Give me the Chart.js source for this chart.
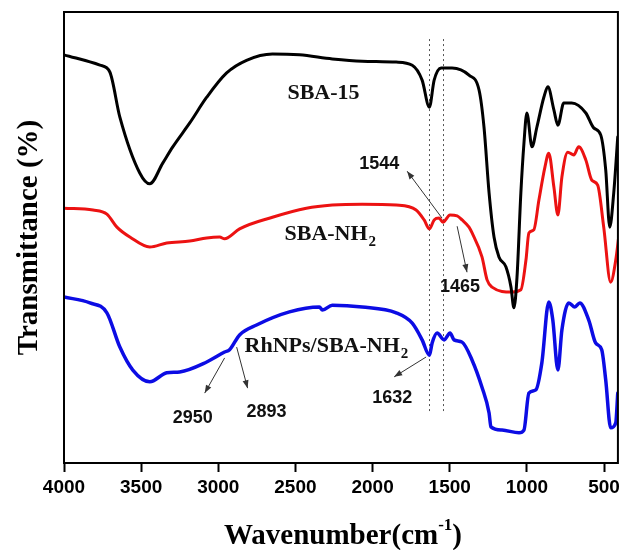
<!DOCTYPE html>
<html>
<head>
<meta charset="utf-8">
<script src="https://cdn.jsdelivr.net/npm/chart.js@4"></script>
<style>
  html, body { margin: 0; padding: 0; background: #fff; }
  #wrap { width: 624px; height: 550px; position: relative; }
</style>
</head>
<body>
<div id="wrap"><canvas id="c"></canvas></div>
<script>
// FTIR spectra (wavenumber in cm-1, transmittance in arbitrary %)

const xTicks = [4000, 3500, 3000, 2500, 2000, 1500, 1000, 500];

const sbaWn = [4000, 3767, 3703, 3638, 3509, 3444, 3360, 3295, 3185, 3075, 2946, 2817, 2649, 2474, 2261, 2067, 1847, 1743, 1679, 1632, 1601, 1556, 1485, 1375, 1310, 1278, 1245, 1213, 1181, 1136, 1103, 1084, 1064, 1039, 1019, 1000, 967, 935, 890, 864, 825, 799, 761, 709, 618, 567, 521, 489, 463, 437, 411];
const sbaT = [90.5, 88.2, 86.7, 76.7, 64.3, 61.9, 66.5, 70.1, 75.4, 81.1, 86.5, 89.3, 90.7, 90.5, 89.6, 89.1, 88.9, 88.2, 84.9, 78.9, 84.9, 87.6, 87.6, 86.0, 82.7, 74.5, 59.9, 50.1, 45.7, 43.5, 39.0, 34.4, 41.2, 59.9, 70.9, 77.6, 70.1, 74.5, 81.1, 83.4, 78.3, 74.9, 79.8, 79.8, 77.6, 74.3, 72.7, 65.0, 52.3, 59.9, 72.3];

const nh2Wn = [4000, 3812, 3722, 3657, 3573, 3444, 3334, 3185, 3075, 2991, 2959, 2940, 2862, 2649, 2429, 2261, 2067, 1847, 1718, 1666, 1632, 1601, 1569, 1544, 1498, 1452, 1420, 1375, 1355, 1291, 1258, 1226, 1097, 1039, 1006, 987, 955, 922, 883, 858, 825, 799, 773, 735, 696, 664, 618, 579, 541, 502, 457, 424, 405];
const nh2T = [56.5, 56.1, 55.2, 52.3, 50.1, 47.9, 48.8, 49.2, 49.9, 50.1, 49.7, 49.9, 51.9, 54.5, 56.5, 57.2, 57.4, 57.2, 56.1, 53.9, 51.9, 53.9, 54.3, 53.4, 55.0, 54.8, 53.9, 52.3, 51.0, 45.7, 40.6, 39.0, 37.9, 38.4, 45.0, 51.0, 51.7, 58.3, 65.6, 68.7, 61.2, 55.0, 63.4, 68.9, 68.3, 70.1, 67.2, 62.7, 61.6, 52.3, 40.1, 45.0, 50.1];

const rhWn = [4000, 3832, 3722, 3638, 3554, 3444, 3334, 3250, 3075, 2959, 2927, 2862, 2752, 2539, 2345, 2325, 2261, 2067, 1847, 1743, 1679, 1632, 1614, 1582, 1536, 1498, 1472, 1420, 1355, 1291, 1245, 1233, 1161, 1051, 1019, 987, 942, 903, 858, 832, 799, 773, 728, 689, 657, 599, 554, 515, 489, 457, 424, 411];
const rhT = [36.8, 35.5, 33.3, 25.7, 20.6, 18.0, 20.0, 20.2, 22.4, 24.6, 25.1, 28.4, 30.6, 33.5, 34.6, 33.9, 35.0, 34.6, 33.3, 31.0, 27.3, 23.9, 26.6, 28.8, 27.3, 28.8, 27.3, 26.8, 22.8, 16.8, 11.1, 8.0, 7.3, 6.7, 7.3, 15.5, 16.2, 22.2, 35.7, 31.7, 20.6, 29.5, 35.5, 34.6, 35.5, 31.7, 26.6, 25.1, 18.4, 7.8, 8.9, 15.5];

// curve names (main text + subscript) and where they sit [wavenumber, T]
const seriesNames = ['SBA-15', 'SBA-NH', 'RhNPs/SBA-NH'];
const seriesSubs = ['', '2', '2'];
const seriesNameAt = [[2552, 80.7], [2571, 49.4], [2830, 24.6]];

// marked bands: dotted guide lines
const guideWn = [1632, 1544];
const guideFrom = 11;
const guideTo = 94;

// band labels and arrows [from wn, from T, to wn, to T]
const bandLabels = ['1544', '1465', '1632', '2950', '2893'];
const bandLabelAt = [[1957, 66.3], [1433, 39.0], [1873, 14.4], [3166, 10.0], [2687, 11.3]];
const bandArrows = [
  [1550, 54.3, 1776, 64.7],
  [1452, 52.5, 1388, 42.3],
  [1653, 23.5, 1860, 19.1],
  [2959, 23.3, 3088, 15.5],
  [2881, 25.7, 2810, 16.6],
];

const pts = (xs, ys) => xs.map((v, i) => ({ x: v, y: ys[i] }));

const SERIF = '"Liberation Serif", "Times New Roman", serif';
const SANS = '"Liberation Sans", Arial, sans-serif';

function arrow(ctx, x1, y1, x2, y2) {
  const a = Math.atan2(y2 - y1, x2 - x1);
  ctx.beginPath();
  ctx.moveTo(x1, y1);
  ctx.lineTo(x2, y2);
  ctx.stroke();
  ctx.beginPath();
  ctx.moveTo(x2, y2);
  ctx.lineTo(x2 - 8 * Math.cos(a) + 3 * Math.sin(a), y2 - 8 * Math.sin(a) - 3 * Math.cos(a));
  ctx.lineTo(x2 - 8 * Math.cos(a) - 3 * Math.sin(a), y2 - 8 * Math.sin(a) + 3 * Math.cos(a));
  ctx.closePath();
  ctx.fill();
}

const annotate = {
  id: 'annotate',
  beforeDatasetsDraw(chart) {
    const { ctx, scales: { x, y } } = chart;
    ctx.save();
    ctx.strokeStyle = '#555';
    ctx.lineWidth = 1;
    ctx.setLineDash([2, 3]);
    guideWn.forEach((w) => {
      const px = Math.round(x.getPixelForValue(w)) + 0.5;
      ctx.beginPath();
      ctx.moveTo(px, y.getPixelForValue(guideTo));
      ctx.lineTo(px, y.getPixelForValue(guideFrom));
      ctx.stroke();
    });
    ctx.restore();
  },
  afterDatasetsDraw(chart) {
    const { ctx, chartArea: ca, scales: { x, y } } = chart;
    ctx.save();

    // arrows
    ctx.strokeStyle = '#333';
    ctx.fillStyle = '#333';
    ctx.lineWidth = 1;
    bandArrows.forEach((a) => {
      arrow(ctx, x.getPixelForValue(a[0]), y.getPixelForValue(a[1]),
        x.getPixelForValue(a[2]), y.getPixelForValue(a[3]));
    });

    // band numbers
    ctx.fillStyle = '#111';
    ctx.font = 'bold 18px ' + SANS;
    ctx.textAlign = 'center';
    ctx.textBaseline = 'middle';
    bandLabels.forEach((t, i) => {
      ctx.fillText(t, x.getPixelForValue(bandLabelAt[i][0]), y.getPixelForValue(bandLabelAt[i][1]));
    });

    // curve names
    ctx.textAlign = 'left';
    ctx.textBaseline = 'alphabetic';
    seriesNames.forEach((t, i) => {
      const px = x.getPixelForValue(seriesNameAt[i][0]);
      const py = y.getPixelForValue(seriesNameAt[i][1]);
      ctx.font = 'bold 22px ' + SERIF;
      ctx.fillText(t, px, py);
      if (seriesSubs[i]) {
        const w = ctx.measureText(t).width;
        ctx.font = 'bold 15px ' + SERIF;
        ctx.fillText(seriesSubs[i], px + w + 1, py + 6);
      }
    });

    // frame
    ctx.strokeStyle = '#000';
    ctx.lineWidth = 2;
    ctx.strokeRect(ca.left, ca.top, ca.right - ca.left, ca.bottom - ca.top);

    // x title with superscript
    const main = 'Wavenumber(cm';
    const sup = '-1';
    const tail = ')';
    ctx.fillStyle = '#000';
    ctx.font = 'bold 29px ' + SERIF;
    const w1 = ctx.measureText(main).width;
    const w3 = ctx.measureText(tail).width;
    ctx.font = 'bold 17px ' + SERIF;
    const w2 = ctx.measureText(sup).width;
    const total = w1 + w2 + w3;
    const cx = (ca.left + ca.right) / 2 + 2;
    let sx = cx - total / 2;
    const base = 544;
    ctx.font = 'bold 29px ' + SERIF;
    ctx.fillText(main, sx, base);
    ctx.font = 'bold 17px ' + SERIF;
    ctx.fillText(sup, sx + w1, base - 14);
    ctx.font = 'bold 29px ' + SERIF;
    ctx.fillText(tail, sx + w1 + w2, base);
    ctx.restore();
  },
};

new Chart(document.getElementById('c'), {
  type: 'scatter',
  data: {
    datasets: [
      { label: 'SBA-15', data: pts(sbaWn, sbaT), borderColor: '#000000', borderWidth: 3 },
      { label: 'SBA-NH2', data: pts(nh2Wn, nh2T), borderColor: 'rgb(236,18,18)', borderWidth: 3 },
      { label: 'RhNPs/SBA-NH2', data: pts(rhWn, rhT), borderColor: 'rgb(12,12,228)', borderWidth: 3.5 },
    ].map((d) => ({
      ...d,
      showLine: true,
      pointRadius: 0,
      fill: false,
      cubicInterpolationMode: 'monotone',
      borderJoinStyle: 'round',
      borderCapStyle: 'round',
    })),
  },
  options: {
    responsive: true,
    maintainAspectRatio: false,
    animation: false,
    layout: { padding: { top: 12, right: 5, left: 0, bottom: 0 } },
    plugins: {
      legend: { display: false },
      tooltip: { enabled: false },
    },
    scales: {
      x: {
        type: 'linear',
        reverse: true,
        min: 410,
        max: 4000,
        afterBuildTicks: (scale) => { scale.ticks = xTicks.map((v) => ({ value: v })); },
        afterFit: (scale) => { scale.height = 87; },
        ticks: {
          color: '#000',
          font: { family: SANS, size: 19, weight: 'bold' },
          padding: 4,
          maxRotation: 0,
          autoSkip: false,
          callback: (v) => String(v),
        },
        grid: {
          drawOnChartArea: false,
          drawTicks: true,
          tickLength: 9,
          tickWidth: 2,
          tickColor: '#000',
        },
        border: { display: true, color: '#000', width: 2 },
      },
      y: {
        min: 0,
        max: 100,
        afterFit: (scale) => { scale.width = 64; },
        ticks: { display: false },
        grid: { display: false },
        border: { display: true, color: '#000', width: 2 },
        title: {
          display: true,
          text: 'Transmittance (%)',
          color: '#000',
          font: { family: SERIF, size: 29, weight: 'bold' },
          padding: { top: 12, bottom: 0 },
        },
      },
    },
  },
  plugins: [annotate],
});
</script>
</body>
</html>
